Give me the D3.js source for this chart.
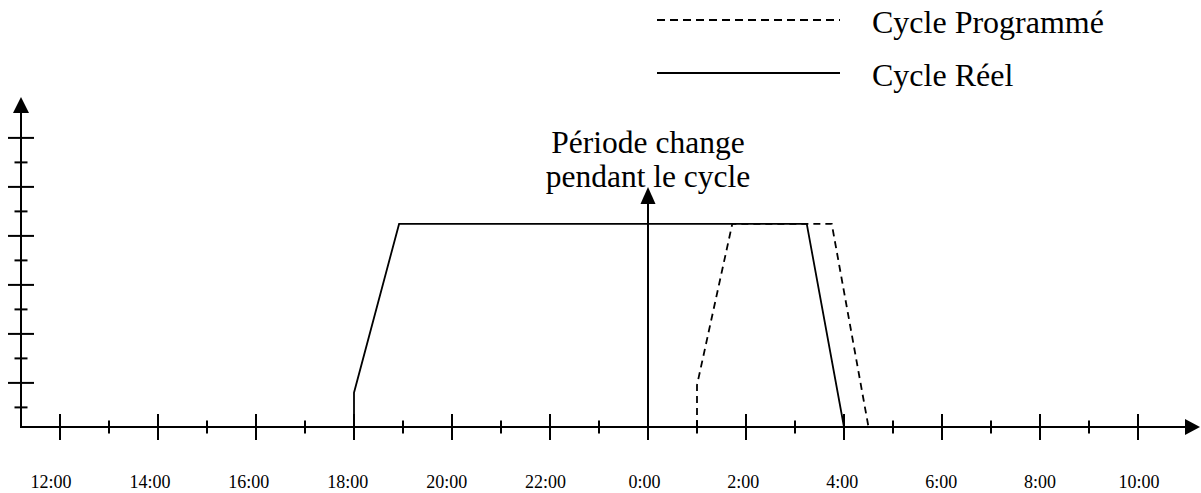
<!DOCTYPE html>
<html>
<head>
<meta charset="utf-8">
<title>Cycle</title>
<script src="https://d3js.org/d3.v7.min.js"></script>
<style>
  * { margin: 0; padding: 0; }
  body { background: #fff; }
  svg text { font-family: "Liberation Serif", "Times New Roman", serif; fill: #000; }
</style>
</head>
<body>
<div id="chart"></div>
<script>
// heures (12 = 12:00, 24 = 0:00 du lendemain)
const tickLabels = ["12:00","14:00","16:00","18:00","20:00","22:00","0:00","2:00","4:00","6:00","8:00","10:00"];
const majorHours = [12,14,16,18,20,22,24,26,28,30,32,34];
const minorHours = [13,15,17,19,21,23,25,27,29,31,33];

const reelHours = [18, 18, 18.92, 27.24, 28];
const reelValues = [0, 1.4, 8.29, 8.29, 0];

const progHours = [25, 25, 25.72, 27.75, 28.5];
const progValues = [0, 1.71, 8.29, 8.29, 0];

const yTicks = [0.8,1.8,2.8,3.8,4.8,5.8,6.8,7.8,8.8,9.8,10.8,11.8];

const changeHour = 24;

const w = 1201, h = 493;

const x = d3.scaleLinear().domain([12, 34]).range([60, 1138]);
// les libelles ne sont pas tout a fait sous les graduations
const xLab = d3.scaleLinear().domain([12, 34]).range([51, 1139]);
const y = d3.scaleLinear().domain([0, 12]).range([427, 133]);

const svg = d3.select("#chart").append("svg")
  .attr("width", w).attr("height", h);

const x0 = 21, xEnd = 1200, yTop = 97;

// axe x
svg.append("line")
  .attr("x1", x0).attr("x2", xEnd - 12)
  .attr("y1", y(0)).attr("y2", y(0))
  .attr("stroke", "#000").attr("stroke-width", 2);
svg.append("path")
  .attr("d", `M${xEnd},${y(0)} L${xEnd - 15},${y(0) - 8} L${xEnd - 15},${y(0) + 8} Z`)
  .attr("fill", "#000");

svg.selectAll(".xmaj").data(majorHours).enter().append("line")
  .attr("x1", d => x(d)).attr("x2", d => x(d))
  .attr("y1", y(0) - 13).attr("y2", y(0) + 13)
  .attr("stroke", "#000").attr("stroke-width", 2);
svg.selectAll(".xmin").data(minorHours).enter().append("line")
  .attr("x1", d => x(d)).attr("x2", d => x(d))
  .attr("y1", y(0) - 6.5).attr("y2", y(0) + 6.5)
  .attr("stroke", "#000").attr("stroke-width", 2);

svg.selectAll(".xlab").data(tickLabels).enter().append("text")
  .attr("x", (d, i) => xLab(majorHours[i]))
  .attr("y", 488)
  .attr("text-anchor", "middle")
  .attr("font-size", 18)
  .text(d => d);

// axe y
svg.append("line")
  .attr("x1", x0).attr("x2", x0)
  .attr("y1", y(0) + 1).attr("y2", yTop + 12)
  .attr("stroke", "#000").attr("stroke-width", 2);
svg.append("path")
  .attr("d", `M${x0},${yTop} L${x0 - 8},${yTop + 16} L${x0 + 8},${yTop + 16} Z`)
  .attr("fill", "#000");

svg.selectAll(".ytick").data(yTicks).enter().append("line")
  .attr("x1", (d, i) => x0 - (i % 2 ? 13 : 6.5))
  .attr("x2", (d, i) => x0 + (i % 2 ? 13 : 6.5))
  .attr("y1", d => y(d)).attr("y2", d => y(d))
  .attr("stroke", "#000").attr("stroke-width", 2);

// lignes
const line = d3.line().x(d => x(d[0])).y(d => y(d[1]));

svg.append("path")
  .datum(progHours.map((d, i) => [d, progValues[i]]))
  .attr("d", line)
  .attr("fill", "none").attr("stroke", "#000").attr("stroke-width", 1.8)
  .attr("stroke-dasharray", "7,5");

svg.append("path")
  .datum(reelHours.map((d, i) => [d, reelValues[i]]))
  .attr("d", line)
  .attr("fill", "none").attr("stroke", "#000").attr("stroke-width", 1.8);

// fleche du changement de periode
const arrowTip = 187;
svg.append("line")
  .attr("x1", x(changeHour)).attr("x2", x(changeHour))
  .attr("y1", y(0)).attr("y2", arrowTip + 12)
  .attr("stroke", "#000").attr("stroke-width", 2);
svg.append("path")
  .attr("d", `M${x(changeHour)},${arrowTip} L${x(changeHour) - 7.5},${arrowTip + 17} L${x(changeHour) + 7.5},${arrowTip + 17} Z`)
  .attr("fill", "#000");

svg.append("text")
  .attr("x", x(changeHour)).attr("y", 153)
  .attr("text-anchor", "middle").attr("font-size", 31.5)
  .text("Période change");
svg.append("text")
  .attr("x", x(changeHour)).attr("y", 187)
  .attr("text-anchor", "middle").attr("font-size", 31.5)
  .text("pendant le cycle");

// legende
const legend = [
  { label: "Cycle Programmé", dash: "8,5", ly: 20 },
  { label: "Cycle Réel", dash: null, ly: 73 }
];
legend.forEach(l => {
  svg.append("line")
    .attr("x1", 657).attr("x2", 840)
    .attr("y1", l.ly).attr("y2", l.ly)
    .attr("stroke", "#000").attr("stroke-width", 2)
    .attr("stroke-dasharray", l.dash);
  svg.append("text")
    .attr("x", 872).attr("y", l.ly + 13)
    .attr("font-size", 32)
    .text(l.label);
});
</script>
</body>
</html>
